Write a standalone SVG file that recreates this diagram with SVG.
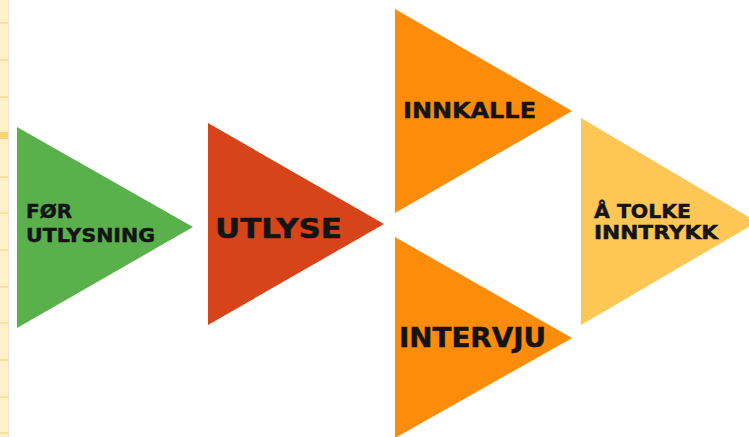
<svg xmlns="http://www.w3.org/2000/svg" width="749" height="437" viewBox="0 0 749 437">
  <style>
    .lbl { font-family: "DejaVu Sans", Verdana, sans-serif; font-weight: bold; fill: #141414; stroke: #141414; stroke-width: 0.5; }
    .rule { stroke: #F2D58E; stroke-width: 1.2; }
  </style>
  <rect width="749" height="437" fill="#FFFFFF"/>

  <!-- margin strip at the left edge -->
  <g id="margin">
    <rect x="0" y="0" width="8" height="437" fill="#FFF0C9"/>
    <rect x="0" y="132" width="8" height="7" fill="#FAD27C"/>
    <g class="rule">
      <line x1="0" y1="23" x2="8" y2="23"/>
      <line x1="0" y1="60" x2="8" y2="60"/>
      <line x1="0" y1="97" x2="8" y2="97"/>
      <line x1="0" y1="177" x2="8" y2="177"/>
      <line x1="0" y1="213" x2="8" y2="213"/>
      <line x1="0" y1="250" x2="8" y2="250"/>
      <line x1="0" y1="287" x2="8" y2="287"/>
      <line x1="0" y1="323" x2="8" y2="323"/>
      <line x1="0" y1="360" x2="8" y2="360"/>
      <line x1="0" y1="397" x2="8" y2="397"/>
      <line x1="0" y1="433" x2="8" y2="433"/>
    </g>
    <line x1="8.5" y1="0" x2="8.5" y2="437" stroke="#EFE6CF" stroke-width="1"/>
  </g>

  <g id="connectors"/>

  <g id="for-utlysning">
    <polygon points="17,127 193,227 17,328" fill="#5AB14B"/>
    <text class="lbl" x="26" y="218" font-size="20">FØR</text>
    <text class="lbl" x="26" y="242" font-size="20" textLength="129" lengthAdjust="spacingAndGlyphs">UTLYSNING</text>
  </g>

  <g id="utlyse">
    <polygon points="208,123 384,224 208,325" fill="#D8441A"/>
    <text class="lbl" x="215" y="238" font-size="27" textLength="127" lengthAdjust="spacingAndGlyphs">UTLYSE</text>
  </g>

  <g id="innkalle">
    <polygon points="395,9 572,111 395,213" fill="#FD8C08"/>
    <text class="lbl" x="403" y="118" font-size="22" textLength="133" lengthAdjust="spacingAndGlyphs">INNKALLE</text>
  </g>

  <g id="intervju">
    <polygon points="395,237 572,338 395,438" fill="#FD8C08"/>
    <text class="lbl" x="399" y="347" font-size="26" textLength="147" lengthAdjust="spacingAndGlyphs">INTERVJU</text>
  </g>

  <g id="tolke-inntrykk">
    <polygon points="581,118 757,222 581,325" fill="#FDC655"/>
    <text class="lbl" x="594" y="218" font-size="20" textLength="97" lengthAdjust="spacingAndGlyphs">Å TOLKE</text>
    <text class="lbl" x="594" y="239" font-size="19" textLength="124" lengthAdjust="spacingAndGlyphs">INNTRYKK</text>
  </g>
</svg>
